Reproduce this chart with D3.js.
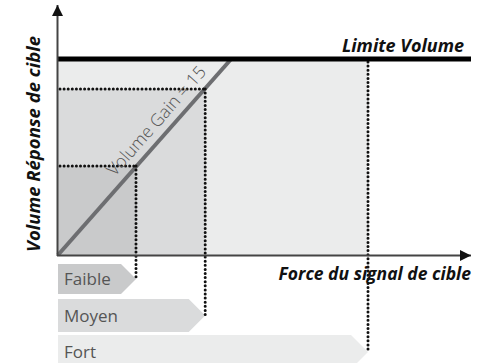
<!DOCTYPE html>
<html><head><meta charset="utf-8">
<script src="https://cdn.jsdelivr.net/npm/d3@7"></script>
<style>
html,body{margin:0;padding:0;background:#fff;}
svg{display:block;font-family:"Open Sans","Noto Sans",sans-serif;}
</style></head>
<body>
<svg id="c" width="491" height="363"></svg>
<script>
// ---- data ----
const categories = ["Faible", "Moyen", "Fort"];
const signalStrength = [19.5, 36.8, 77.5];      // x position of each level
const targetResponse = [45.4, 84.7, 100];       // response reached (y)
const volumeLimit = 100;
const gainLine = [[0, 0], [43.3, 100]];          // Volume Gain = 15 line
const gainLabel = "Volume Gain = 15";
const limitLabel = "Limite Volume";
const xTitle = "Force du signal de cible";
const yTitle = "Volume Réponse de cible";

// ---- layout ----
const svg = d3.select("#c");
const x = d3.scaleLinear().domain([0, 100]).range([58, 458]);
const y = d3.scaleLinear().domain([0, 100]).range([255, 59]);
const fills = ["#c9cacb", "#dadbdc", "#ebecec"];
const boxY = [[264, 294], [299, 332], [335, 369]];

// shaded regions (largest first)
for (let i = categories.length - 1; i >= 0; i--) {
  const top = i === 2 ? y(volumeLimit) + 2 : y(targetResponse[i]);
  svg.append("rect")
    .attr("x", x(0)).attr("y", top)
    .attr("width", x(signalStrength[i]) - x(0))
    .attr("height", y(0) - top)
    .attr("fill", fills[i]);
}

// gain line
svg.append("line")
  .attr("x1", x(gainLine[0][0])).attr("y1", y(gainLine[0][1]))
  .attr("x2", x(gainLine[1][0])).attr("y2", y(gainLine[1][1]))
  .attr("stroke", "#6d6e71").attr("stroke-width", 4);

// category boxes
categories.forEach((c, i) => {
  const [t, b] = boxY[i];
  const tipX = x(signalStrength[i]);
  const mid = (t + b) / 2;
  const h2 = (b - t) / 2;
  const pts = [[x(0), t], [tipX - h2, t], [tipX, mid], [tipX - h2, b], [x(0), b]];
  svg.append("path").attr("d", d3.line()(pts) + "Z").attr("fill", fills[i]);
  svg.append("text").attr("x", x(0) + 6).attr("y", mid + 6)
    .attr("font-size", 17).attr("fill", "#555").attr("font-weight", 400)
    .text(c);
});

// dotted guides
const dot = sel => sel.attr("stroke", "#111").attr("stroke-width", 3)
  .attr("stroke-linecap", "round").attr("stroke-dasharray", "0,4.1").attr("fill", "none");
categories.forEach((c, i) => {
  const xi = x(signalStrength[i]);
  const yi = i === 2 ? y(volumeLimit) + 3 : y(targetResponse[i]);
  const bottom = (boxY[i][0] + boxY[i][1]) / 2;
  if (i < 2) {
    svg.append("line").attr("x1", x(0) + 2).attr("y1", yi).attr("x2", xi).attr("y2", yi).call(dot);
  }
  svg.append("line").attr("x1", xi).attr("y1", yi).attr("x2", xi).attr("y2", bottom).call(dot);
});

// limit line
svg.append("line").attr("x1", x(0) - 1).attr("x2", 471)
  .attr("y1", y(volumeLimit)).attr("y2", y(volumeLimit))
  .attr("stroke", "#000").attr("stroke-width", 5);
svg.append("text").attr("x", 464).attr("y", 52).attr("text-anchor", "end")
  .attr("font-size", 18).attr("font-weight", 700).attr("font-style", "italic")
  .attr("fill", "#111").text(limitLabel);

// axes with arrows
svg.append("defs").append("marker").attr("id", "arr")
  .attr("viewBox", "0 0 10 10").attr("refX", 10).attr("refY", 5)
  .attr("markerWidth", 15).attr("markerHeight", 11).attr("markerUnits", "userSpaceOnUse")
  .attr("orient", "auto")
  .append("path").attr("d", "M0,0L10,5L0,10Z").attr("fill", "#111");
svg.append("line").attr("x1", x(0) - 0.5).attr("y1", y(0) + 1).attr("x2", x(0) - 0.5).attr("y2", 5)
  .attr("stroke", "#444").attr("stroke-width", 2).attr("marker-end", "url(#arr)");
svg.append("line").attr("x1", x(0) - 1).attr("y1", y(0) + 0.5).attr("x2", 471).attr("y2", y(0) + 0.5)
  .attr("stroke", "#444").attr("stroke-width", 2).attr("marker-end", "url(#arr)");

// axis titles
svg.append("text").attr("x", 471).attr("y", 280).attr("text-anchor", "end")
  .attr("font-size", 17.5).attr("font-weight", 700).attr("font-style", "italic")
  .attr("fill", "#111").text(xTitle);
svg.append("text").attr("transform", "translate(40,252) rotate(-90)")
  .attr("font-size", 18.5).attr("font-weight", 700).attr("font-style", "italic")
  .attr("fill", "#111").text(yTitle);

// gain label along the line
const gx0 = x(gainLine[0][0]), gy0 = y(gainLine[0][1]);
const gx1 = x(gainLine[1][0]), gy1 = y(gainLine[1][1]);
const len = Math.hypot(gx1 - gx0, gy1 - gy0);
const ux = (gx1 - gx0) / len, uy = (gy1 - gy0) / len;
const sx = gx0 + 96 * ux + 9 * uy, sy = gy0 + 96 * uy - 9 * ux;
const ang = Math.atan2(gy1 - gy0, gx1 - gx0) * 180 / Math.PI;
svg.append("text").attr("transform", `translate(${sx},${sy}) rotate(${ang})`)
  .attr("font-size", 17.5).attr("font-weight", 300).attr("fill", "#555")
  .text(gainLabel);
</script>
</body></html>
